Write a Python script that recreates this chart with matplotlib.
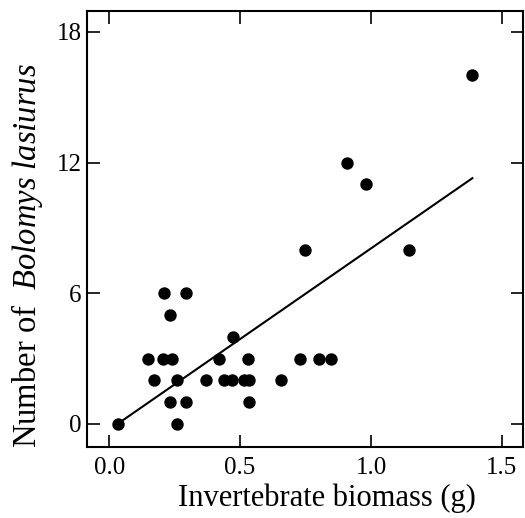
import matplotlib
matplotlib.use("Agg")
import matplotlib.pyplot as plt

biomass = [0.032, 0.258,
           0.233, 0.295, 0.534,
           0.172, 0.258, 0.371, 0.439, 0.471, 0.515, 0.534, 0.655,
           0.149, 0.204, 0.239, 0.420, 0.532, 0.728, 0.800, 0.848,
           0.473, 0.233, 0.210, 0.293,
           0.747, 1.145, 0.980, 0.910, 1.385]
counts = [0, 0,
          1, 1, 1,
          2, 2, 2, 2, 2, 2, 2, 2,
          3, 3, 3, 3, 3, 3, 3, 3,
          4, 5, 6, 6,
          8, 8, 11, 12, 16]
fit_x = [0.032, 1.387]
fit_y = [0.0, 11.28]
x_ticks = [0.0, 0.5, 1.0, 1.5]
x_ticklabels = ["0.0", "0.5", "1.0", "1.5"]
y_ticks = [0, 6, 12, 18]

plt.rcParams['font.family'] = ['Liberation Serif', 'DejaVu Serif']
plt.rcParams['mathtext.fontset'] = 'custom'
plt.rcParams['mathtext.rm'] = 'Liberation Serif'
plt.rcParams['mathtext.it'] = 'Liberation Serif:italic'

fig = plt.figure(figsize=(5.25, 5.18), dpi=100)
ax = fig.add_axes([0.166, 0.137, 0.830, 0.842])

ax.scatter(biomass, counts, s=80, color='black', zorder=3, linewidths=0)
ax.plot(fit_x, fit_y, color='black', lw=1.5)

ax.set_xlim(-0.084, 1.58)
ax.set_ylim(-1.06, 18.96)
ax.set_xticks(x_ticks)
ax.set_xticklabels(x_ticklabels)
ax.set_yticks(y_ticks)
ax.tick_params(direction='in', length=9, width=1.2, top=True, right=True,
               labelsize=18)
ax.tick_params(axis='x', pad=7)
ax.tick_params(axis='y', pad=4)
for s in ax.spines.values():
    s.set_linewidth(1.5)

ax.set_xlabel("Invertebrate biomass (g)", fontsize=22)
ax.xaxis.set_label_coords(0.55, -0.083)
ax.set_ylabel(r"Number of  $\it{Bolomys\ lasiurus}$", fontsize=23.5)
ax.yaxis.set_label_coords(-0.097, 0.44)

fig.savefig("out.png", dpi=100)
